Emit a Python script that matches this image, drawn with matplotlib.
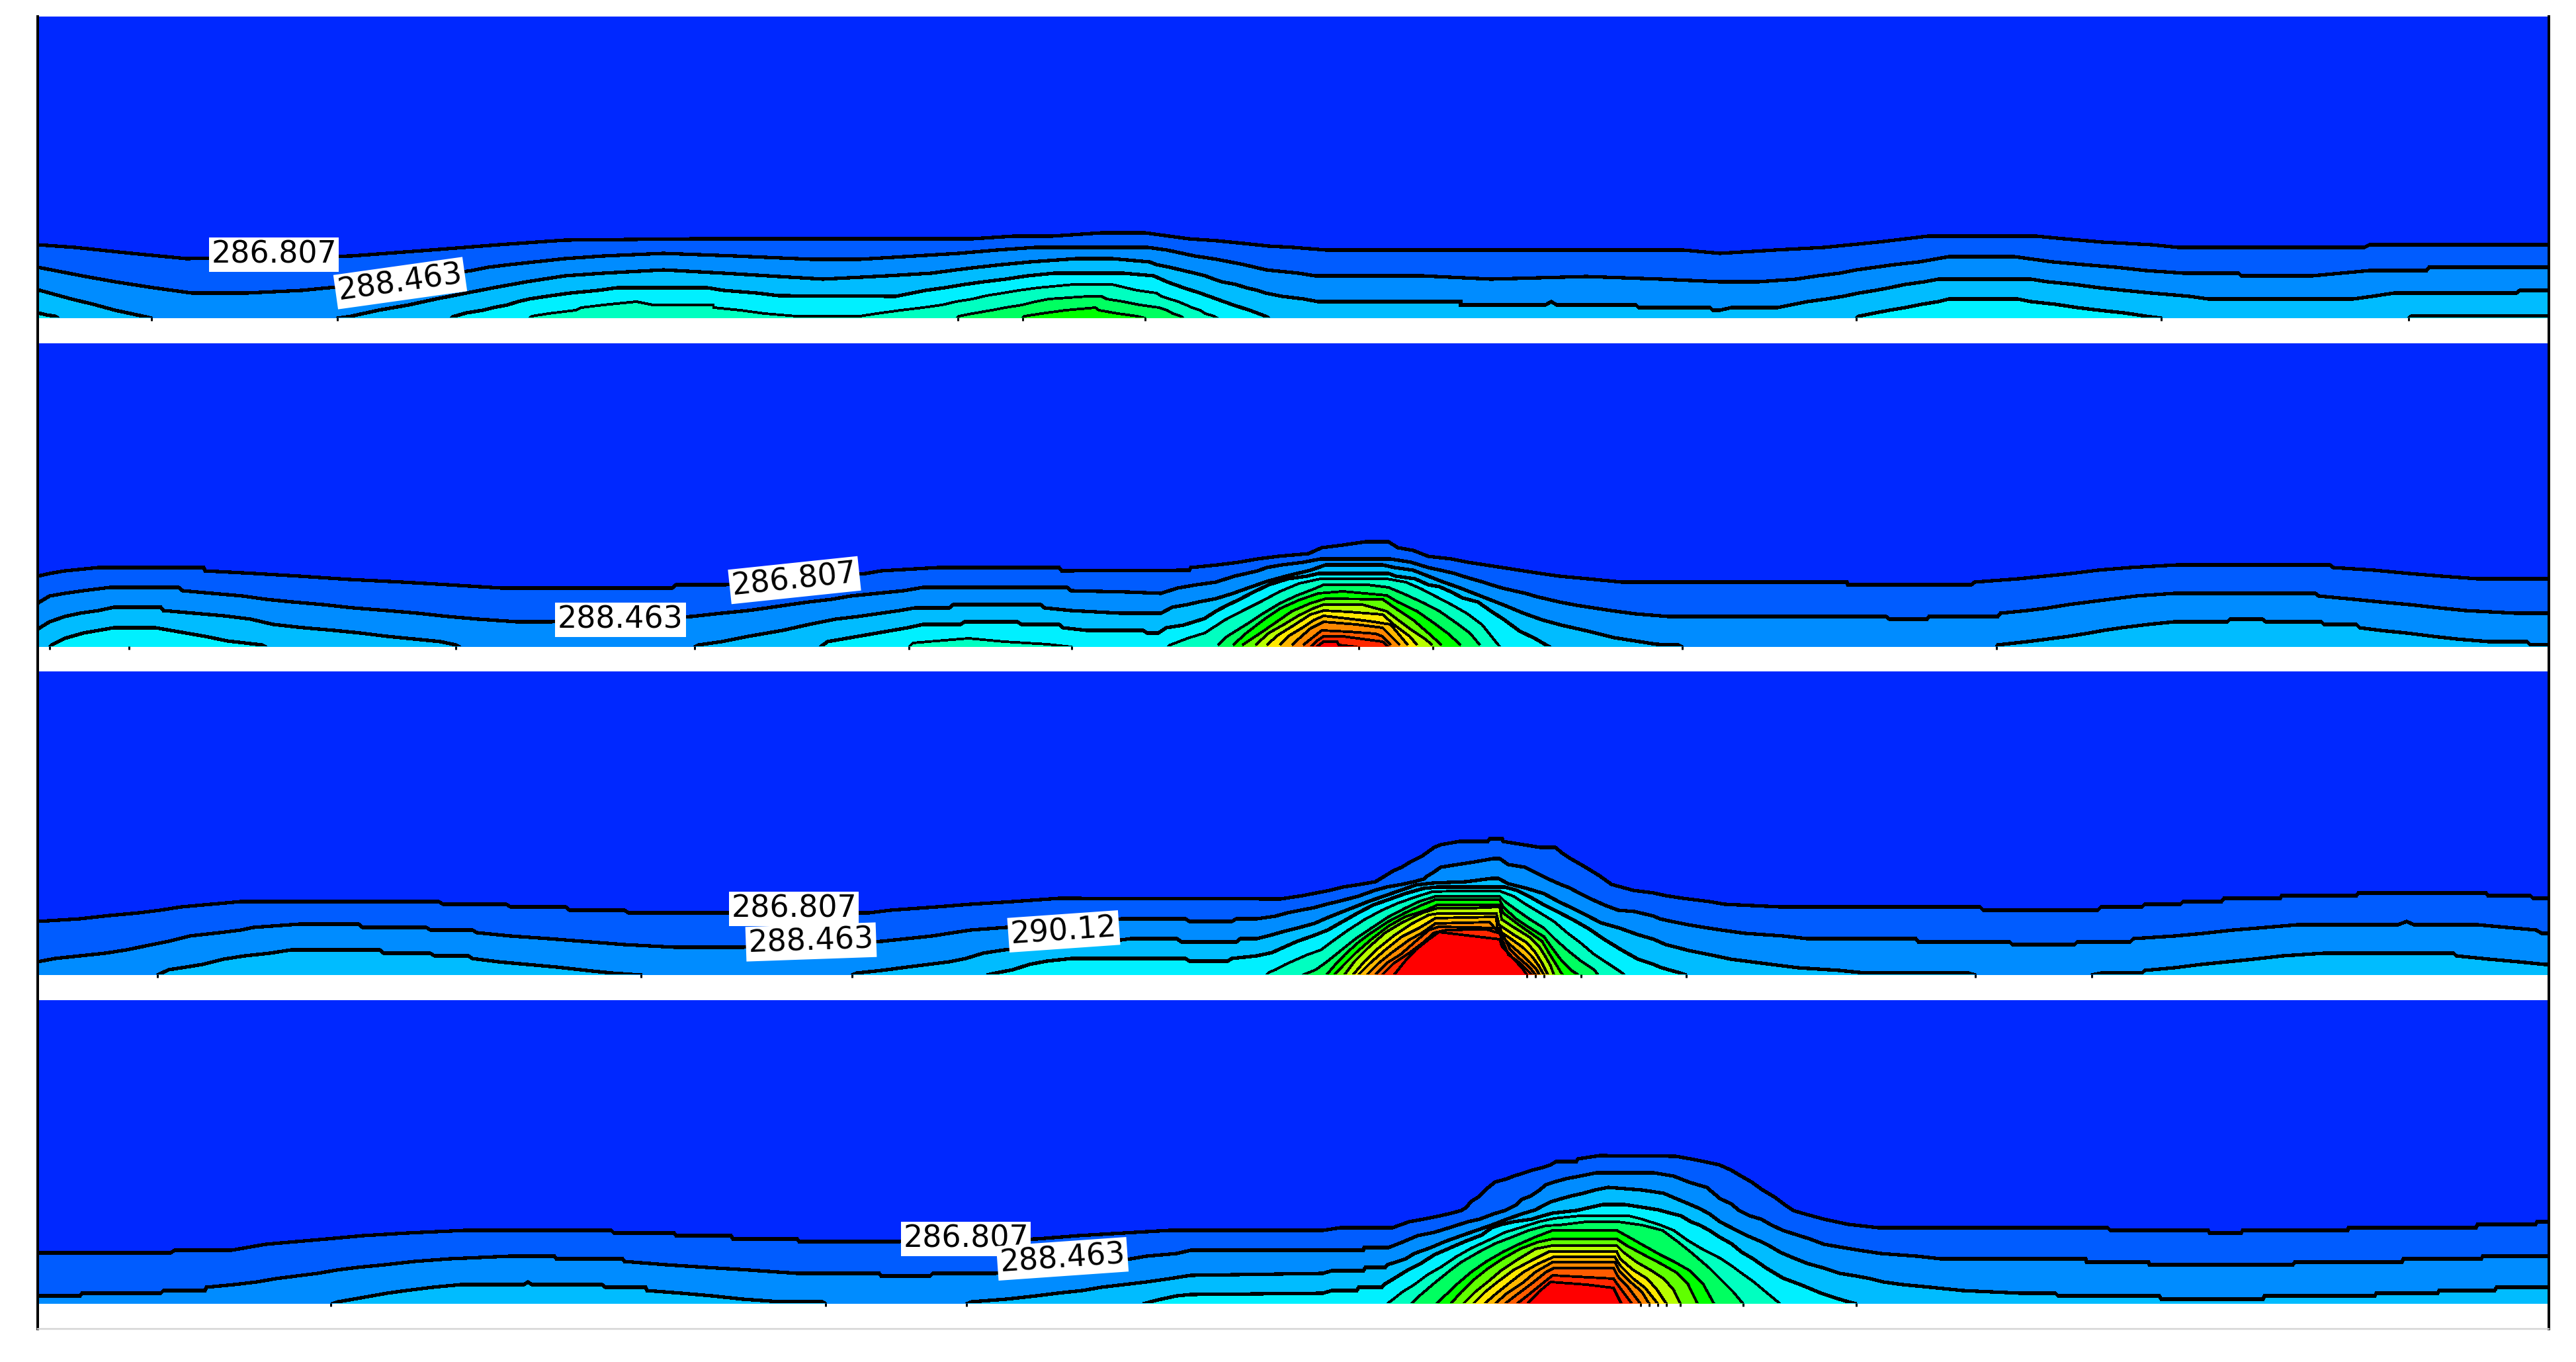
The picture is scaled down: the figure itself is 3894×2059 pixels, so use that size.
"""Four stacked temperature contour panels with a moving hot plume."""

import matplotlib
matplotlib.use("Agg")
import matplotlib.pyplot as plt
import numpy as np

W, H = 3894, 2059
LEFT, RIGHT = 57, 3853
FRAME_TOP, FRAME_BOTTOM = 25, 2009

# contour colours, from the background up to the hottest level
BANDS = ["#0028ff", "#005cff", "#008cff", "#00bcff", "#00f0ff", "#00ffc0",
         "#00ff60", "#00ff00", "#60ff00", "#b8ff00", "#ffe800", "#ffb800",
         "#ff8800", "#ff5c00", "#ff2800", "#ff0000"]

# each contour is a list of (x, height above panel bottom); negative = below the cut
p1_l1 = [(57,110),(113,106),(199,97),(282,89),(531,93),(638,101),(754,110),(854,117),(1053,119),(1470,119),(1532,123),(1590,123),(1665,128),(1731,128),(1797,119),(1840,116),(1880,112),(1918,108),(1955,106),(2005,102),(2544,102),(2600,97),(2683,102),(2757,106),(2839,114),(2914,123),(3078,123),(3120,119),(3178,114),(3252,110),(3293,106),(3574,106),(3582,110),(3855,110)]
p1_l2 = [(57,76),(83,71),(124,63),(174,54),(232,45),(290,37),(373,37),(456,41),(600,55),(713,71),(738,76),(771,80),(808,84),(854,89),(912,93),(1003,97),(1111,93),(1227,88),(1300,88),(1383,93),(1449,97),(1507,102),(1565,106),(1735,106),(1764,102),(1806,93),(1839,88),(1880,80),(1914,72),(1963,67),(1988,63),(2150,63),(2254,58),(2398,62),(2510,58),(2600,54),(2658,54),(2715,58),(2748,63),(2781,67),(2806,72),(2835,76),(2864,80),(2901,84),(2946,92),(3045,92),(3103,84),(3149,80),(3198,76),(3244,71),(3301,67),(3384,67),(3388,63),(3495,63),(3582,71),(3668,71),(3672,76),(3855,76)]
p1_l3 = [(57,42),(75,37),(108,28),(141,20),(174,11),(216,2),(229,-1),(236,-8),(503,-8),(510,-1),(531,2),(572,11),(618,19),(659,28),(705,37),(746,45),(796,54),(854,63),(912,67),(1003,72),(1094,67),(1161,63),(1244,58),(1341,63),(1408,67),(1445,72),(1478,76),(1515,80),(1557,84),(1627,89),(1681,89),(1738,84),(1748,80),(1768,76),(1789,71),(1806,67),(1822,63),(1835,58),(1847,54),(1868,50),(1884,45),(1901,41),(1913,37),(1938,32),(1971,28),(1992,24),(2208,24),(2208,19),(2336,19),(2345,24),(2353,19),(2473,19),(2477,15),(2585,15),(2589,11),(2600,11),(2617,15),(2687,15),(2707,19),(2732,24),(2761,28),(2786,32),(2810,37),(2835,41),(2856,45),(2880,50),(2909,54),(2930,58),(3070,58),(3095,54),(3136,50),(3173,45),(3211,41),(3252,37),(3310,32),(3338,28),(3557,28),(3586,32),(3619,37),(3804,37),(3809,41),(3855,41)]
p1_l4 = [(57,7),(70,4),(83,2),(88,-1),(94,-8),(678,-8),(684,1),(705,7),(730,11),(746,15),(767,19),(783,24),(800,28),(833,33),(862,37),(904,41),(933,45),(1069,45),(1094,41),(1144,37),(1177,33),(1354,32),(1399,41),(1428,45),(1458,50),(1487,54),(1520,58),(1553,63),(1594,67),(1698,67),(1744,63),(1764,54),(1789,45),(1814,37),(1839,28),(1864,19),(1889,11),(1913,2),(1918,-1),(1924,-8),(2800,-8),(2806,-1),(2810,2),(2835,7),(2856,11),(2880,15),(2905,20),(2930,24),(2946,28),(3050,28),(3070,24),(3107,20),(3140,15),(3173,11),(3211,7),(3244,2),(3267,-1),(3272,-8),(3636,-8),(3641,-1),(3645,2),(3855,2)]
p1_l5 = [(795,-8),(800,-1),(804,2),(829,6),(870,11),(879,15),(912,19),(962,24),(987,19),(1078,19),(1079,15),(1119,11),(1156,6),(1204,2),(1300,2),(1325,6),(1362,11),(1395,15),(1424,19),(1445,24),(1470,28),(1491,33),(1516,37),(1540,41),(1569,45),(1623,50),(1681,50),(1719,41),(1748,37),(1756,32),(1768,28),(1781,24),(1793,19),(1802,15),(1814,11),(1822,6),(1835,2),(1840,-1),(1845,-8)]
p1_l6 = [(1440,-8),(1446,-1),(1449,2),(1470,6),(1499,11),(1520,15),(1545,19),(1565,24),(1586,28),(1644,32),(1665,32),(1673,28),(1698,24),(1723,19),(1752,15),(1764,11),(1773,6),(1785,2),(1789,-1),(1794,-8)]
p1_l7 = [(1545,-1),(1549,2),(1574,6),(1611,11),(1656,15),(1661,11),(1690,6),(1719,2),(1731,-1)]

p2_l1 = [(57,106),(75,110),(98,114),(149,119),(308,119),(310,114),(385,110),(453,106),(528,101),(608,97),(677,93),(758,88),(1016,88),(1022,93),(1096,93),(1309,110),(1332,114),(1418,119),(1601,119),(1605,114),(1798,115),(1800,119),(1841,123),(1872,127),(1901,132),(1932,136),(1978,140),(1998,149),(2030,153),(2064,158),(2099,158),(2113,149),(2136,145),(2159,136),(2194,132),(2219,127),(2245,123),(2271,119),(2303,114),(2329,110),(2357,106),(2400,102),(2452,97),(2792,97),(2793,93),(2980,93),(2985,97),(3051,102),(3091,106),(3131,110),(3171,115),(3220,119),(3291,123),(3522,123),(3527,119),(3589,115),(3642,110),(3691,106),(3745,102),(3855,102)]
p2_l2 = [(57,64),(60,67),(75,76),(98,80),(126,84),(166,89),(270,89),(276,84),(321,80),(367,76),(402,71),(442,67),(488,63),(534,58),(585,54),(631,50),(677,45),(723,41),(781,37),(832,37),(1045,45),(1091,50),(1131,54),(1160,58),(1194,63),(1223,67),(1257,71),(1286,76),(1326,80),(1366,84),(1395,89),(1613,89),(1619,84),(1705,82),(1755,80),(1780,88),(1809,93),(1838,97),(1866,106),(1884,110),(1901,114),(1915,119),(1938,123),(1970,127),(1996,132),(2102,132),(2133,127),(2159,119),(2182,114),(2199,110),(2211,106),(2228,101),(2242,97),(2254,93),(2271,88),(2288,84),(2306,80),(2323,75),(2340,71),(2357,67),(2383,62),(2409,58),(2435,54),(2472,49),(2522,45),(2851,45),(2856,41),(2913,41),(2916,45),(3020,45),(3024,50),(3065,54),(3096,58),(3127,63),(3158,67),(3189,71),(3229,76),(3287,80),(3500,80),(3505,76),(3558,71),(3598,67),(3642,63),(3687,58),(3727,54),(3802,50),(3855,50)]
p2_l3 = [(57,26),(75,37),(98,45),(121,50),(149,54),(172,59),(243,59),(247,54),(293,50),(339,46),(379,41),(413,33),(459,28),(505,24),(545,20),(585,15),(626,11),(666,7),(689,2),(695,-1),(700,-8),(1045,-8),(1050,-1),(1056,2),(1091,7),(1131,15),(1160,20),(1183,24),(1223,33),(1263,41),(1297,45),(1332,50),(1360,54),(1383,58),(1435,58),(1441,63),(1573,63),(1579,58),(1619,54),(1693,50),(1755,50),(1772,59),(1795,63),(1812,67),(1838,72),(1864,80),(1889,89),(1915,98),(1944,106),(1981,115),(2004,123),(2090,123),(2108,119),(2136,115),(2159,106),(2182,97),(2205,89),(2228,80),(2251,71),(2274,62),(2303,50),(2331,40),(2360,32),(2400,23),(2440,13),(2472,8),(2504,3),(2537,2),(2543,-1),(2548,-8),(3013,-8),(3018,-1),(3020,2),(3065,7),(3096,11),(3127,15),(3158,20),(3180,24),(3207,28),(3247,33),(3287,37),(3367,37),(3371,41),(3420,41),(3425,37),(3509,37),(3513,33),(3562,33),(3567,28),(3598,24),(3638,20),(3678,15),(3713,11),(3762,7),(3820,7),(3825,2),(3855,2)]
p2_l4 = [(70,-8),(75,-1),(80,3),(98,12),(126,20),(172,28),(235,28),(281,20),(310,15),(344,8),(396,2),(402,-1),(408,-8),(1234,-8),(1240,-1),(1251,7),(1297,15),(1326,20),(1349,24),(1372,28),(1395,33),(1452,33),(1458,37),(1538,37),(1544,33),(1601,33),(1607,28),(1642,24),(1728,24),(1734,20),(1751,20),(1763,28),(1789,32),(1821,42),(1838,53),(1855,62),(1872,70),(1895,82),(1918,93),(1947,102),(1976,106),(1993,110),(2099,110),(2110,106),(2139,102),(2159,93),(2176,90),(2194,82),(2211,73),(2234,67),(2254,53),(2274,40),(2297,23),(2320,12),(2337,2),(2343,-1),(2348,-8)]
p2_l5 = [(1368,-8),(1374,-1),(1380,5),(1403,7),(1464,12),(1518,7),(1584,3),(1620,-1),(1626,-8),(1760,-8),(1765,-1),(1769,2),(1795,12),(1821,20),(1852,40),(1881,55),(1907,68),(1935,83),(1964,95),(1996,102),(2096,102),(2125,97),(2148,87),(2171,75),(2194,63),(2217,50),(2240,33),(2265,2),(2268,-1)]
p2_l6 = [(1841,2),(1855,15),(1884,33),(1910,50),(1935,65),(1961,77),(1987,87),(2001,93),(2067,93),(2099,89),(2125,78),(2153,65),(2176,53),(2199,37),(2222,20),(2237,2)]
p2_l7 = [(1864,2),(1884,20),(1910,40),(1935,57),(1964,70),(1993,80),(2030,83),(2096,77),(2113,67),(2142,53),(2165,37),(2188,20),(2208,2)]
p2_l8 = [(1878,2),(1901,17),(1930,37),(1953,53),(1981,65),(2004,72),(2090,71),(2113,55),(2136,40),(2159,20),(2179,2)]
p2_l9 = [(1898,2),(1918,20),(1941,33),(1964,47),(1987,58),(2001,63),(2059,63),(2096,53),(2113,40),(2136,23),(2153,12),(2165,2)]
p2_l10 = [(1915,2),(1932,17),(1953,30),(1981,48),(2001,54),(2039,52),(2090,48),(2108,32),(2131,15),(2142,2)]
p2_l11 = [(1935,2),(1947,15),(1967,27),(1987,40),(2001,46),(2027,43),(2070,38),(2102,33),(2113,20),(2128,2)]
p2_l12 = [(1953,2),(1964,12),(1981,27),(2001,37),(2050,33),(2090,28),(2108,10),(2116,2)]
p2_l13 = [(1970,2),(1984,13),(1998,24),(2039,22),(2079,19),(2090,15),(2102,2)]
p2_l14 = [(1981,-1),(1993,10),(2001,15),(2030,15),(2067,10),(2090,7),(2099,-1)]
p2_l15 = [(1990,-1),(2001,7),(2021,7),(2024,2),(2051,-1)]

p3_l1 = [(57,80),(121,84),(166,89),(210,93),(242,97),(274,102),(319,106),(364,110),(663,110),(670,106),(765,106),(772,102),(855,102),(861,97),(944,97),(950,93),(1071,93),(1314,93),(1346,97),(1416,102),(1467,106),(1531,110),(1601,115),(1936,114),(1969,119),(2010,127),(2030,132),(2056,136),(2079,140),(2094,149),(2107,157),(2119,162),(2132,170),(2150,179),(2168,192),(2178,196),(2206,201),(2249,201),(2252,205),(2271,205),(2272,201),(2303,196),(2328,192),(2351,192),(2362,183),(2374,175),(2390,166),(2405,157),(2418,149),(2436,136),(2469,127),(2500,123),(2518,119),(2544,115),(2584,110),(2607,106),(2691,102),(2993,102),(2998,97),(3171,97),(3176,102),(3238,102),(3242,106),(3296,106),(3300,110),(3358,110),(3362,115),(3447,115),(3449,119),(3562,119),(3565,123),(3758,123),(3761,119),(3825,119),(3829,115),(3855,115)]
p3_l2 = [(57,19),(83,24),(121,28),(159,32),(191,37),(230,45),(255,50),(287,58),(332,63),(364,67),(383,71),(453,76),(542,76),(548,71),(644,71),(651,67),(714,67),(721,63),(772,58),(829,54),(880,50),(944,45),(1020,41),(1122,41),(1333,50),(1371,54),(1409,58),(1441,63),(1467,67),(1696,84),(1792,84),(1798,80),(1862,80),(1869,84),(1900,84),(1928,88),(1946,93),(1966,97),(1987,101),(2005,106),(2022,110),(2053,118),(2078,127),(2096,132),(2119,136),(2137,140),(2152,144),(2158,149),(2165,153),(2178,162),(2203,166),(2229,170),(2257,175),(2267,175),(2280,166),(2305,162),(2323,153),(2341,144),(2359,136),(2372,131),(2387,123),(2405,114),(2425,105),(2446,97),(2471,95),(2500,88),(2509,84),(2527,80),(2552,75),(2576,71),(2602,67),(2638,62),(2696,58),(2731,54),(2896,54),(2900,49),(3038,49),(3042,45),(3136,45),(3140,49),(3220,49),(3225,54),(3287,58),(3331,62),(3376,67),(3425,71),(3473,75),(3625,75),(3638,80),(3649,75),(3745,75),(3789,71),(3834,67),(3842,62),(3855,62)]
p3_l3 = [(232,-8),(238,-1),(255,7),(281,11),(306,15),(338,23),(370,28),(408,32),(440,37),(574,37),(580,32),(650,32),(657,28),(708,28),(714,24),(753,19),(797,15),(842,11),(886,6),(925,2),(969,-1),(975,-8),(1282,-8),(1288,-1),(1295,2),(1333,6),(1371,11),(1403,15),(1435,19),(1460,24),(1486,32),(1518,37),(1645,45),(1709,54),(1779,54),(1786,49),(1869,49),(1875,54),(1900,54),(1920,59),(1941,65),(1961,70),(1987,77),(2005,85),(2025,93),(2048,102),(2068,110),(2091,118),(2117,127),(2140,135),(2165,138),(2216,140),(2254,145),(2265,145),(2280,137),(2308,130),(2334,122),(2356,110),(2377,100),(2397,90),(2420,78),(2448,70),(2476,60),(2500,53),(2509,49),(2518,45),(2534,41),(2553,36),(2573,32),(2593,28),(2616,23),(2647,19),(2678,15),(2718,10),(2780,6),(2820,2),(2976,2),(2986,-1),(2992,-8),(3156,-8),(3162,-1),(3176,2),(3238,2),(3242,6),(3287,10),(3327,15),(3367,19),(3407,23),(3451,28),(3513,32),(3709,32),(3713,28),(3762,23),(3807,19),(3847,15),(3855,15)]
p3_l4 = [(1492,-1),(1505,2),(1531,7),(1556,15),(1582,20),(1620,24),(1792,24),(1798,20),(1856,20),(1862,24),(1900,28),(1923,33),(1943,42),(1961,50),(1984,58),(2007,67),(2030,80),(2053,93),(2076,105),(2099,113),(2124,122),(2152,130),(2173,132),(2275,132),(2293,127),(2313,117),(2334,105),(2354,95),(2377,83),(2400,70),(2425,53),(2451,37),(2476,23),(2500,15),(2509,11),(2522,7),(2537,3),(2549,-1)]
p3_l5 = [(1914,-1),(1918,3),(1928,7),(1943,15),(1961,23),(1977,30),(1997,37),(2017,52),(2038,67),(2063,83),(2089,97),(2114,108),(2140,117),(2165,125),(2201,126),(2267,126),(2288,118),(2308,105),(2328,93),(2349,80),(2369,63),(2390,47),(2410,30),(2430,17),(2451,3),(2456,-1)]
p3_l6 = [(1969,-1),(1989,7),(2007,20),(2028,37),(2048,53),(2073,70),(2099,87),(2124,100),(2145,110),(2170,118),(2267,118),(2275,110),(2293,97),(2313,83),(2334,70),(2351,53),(2369,37),(2390,20),(2410,7),(2416,-1)]
p3_l7 = [(2005,-1),(2017,13),(2033,30),(2053,48),(2073,63),(2099,80),(2124,93),(2150,105),(2170,113),(2267,113),(2272,102),(2293,83),(2313,70),(2334,57),(2346,40),(2359,23),(2374,7),(2386,-1)]
p3_l8 = [(2017,-1),(2030,13),(2050,33),(2073,53),(2099,73),(2124,87),(2155,97),(2173,105),(2267,105),(2272,93),(2293,77),(2313,63),(2331,50),(2341,33),(2351,17),(2362,-1)]
p3_l9 = [(2032,-1),(2048,20),(2068,40),(2094,63),(2119,78),(2150,93),(2173,100),(2224,100),(2267,102),(2270,83),(2290,70),(2311,57),(2326,43),(2336,27),(2344,13),(2349,-1)]
p3_l10 = [(2045,-1),(2063,20),(2084,40),(2109,60),(2135,77),(2160,90),(2175,92),(2262,92),(2266,75),(2288,60),(2308,48),(2321,33),(2331,17),(2340,-1)]
p3_l11 = [(2053,-1),(2071,17),(2094,37),(2119,57),(2145,70),(2170,85),(2262,87),(2263,68),(2285,53),(2303,40),(2316,27),(2326,13),(2334,-1)]
p3_l12 = [(2066,-1),(2084,17),(2104,33),(2130,52),(2150,63),(2170,77),(2252,79),(2268,60),(2285,43),(2300,30),(2313,18),(2323,7),(2327,-1)]
p3_l13 = [(2079,-1),(2096,17),(2117,30),(2140,50),(2160,67),(2175,72),(2267,70),(2283,37),(2298,23),(2313,10),(2321,-1)]
p3_l14 = [(2089,-1),(2107,17),(2127,30),(2150,47),(2168,63),(2186,67),(2247,68),(2267,62),(2280,30),(2298,17),(2308,7),(2316,-1)]
p3_l15 = [(2107,-1),(2124,20),(2140,37),(2160,53),(2175,64),(2267,53),(2270,43),(2285,27),(2303,7),(2308,-1)]

p4_l1 = [(57,76),(258,76),(264,80),(350,80),(402,89),(448,93),(494,97),(549,102),(616,106),(703,110),(924,110),(928,106),(1019,106),(1022,102),(1105,102),(1108,97),(1205,97),(1208,93),(1355,93),(1567,97),(1630,102),(1699,106),(1768,110),(2000,110),(2026,114),(2105,114),(2130,123),(2152,127),(2177,132),(2194,136),(2209,140),(2217,145),(2223,153),(2237,162),(2245,171),(2260,183),(2278,188),(2288,192),(2301,196),(2316,201),(2332,205),(2344,209),(2352,214),(2383,214),(2385,218),(2418,223),(2533,222),(2556,218),(2576,214),(2599,209),(2617,201),(2632,192),(2648,183),(2663,172),(2683,160),(2699,148),(2711,140),(2724,136),(2757,127),(2794,119),(2839,114),(3186,114),(3190,110),(3338,110),(3340,106),(3388,106),(3390,110),(3549,110),(3550,114),(3743,114),(3745,119),(3833,119),(3835,123),(3855,123)]
p4_l2 = [(57,11),(121,11),(124,15),(243,15),(247,19),(310,19),(312,24),(354,28),(388,32),(417,37),(448,41),(480,45),(509,50),(540,54),(582,58),(626,63),(680,67),(771,71),(838,71),(841,67),(941,67),(944,63),(1007,58),(1068,54),(1133,50),(1205,45),(1329,45),(1332,41),(1406,41),(1410,45),(1504,45),(1710,67),(1733,71),(1779,75),(1800,80),(2061,80),(2062,84),(2099,84),(2122,93),(2143,102),(2168,107),(2194,115),(2219,123),(2237,127),(2258,135),(2275,140),(2291,148),(2301,157),(2314,162),(2326,170),(2337,179),(2349,183),(2367,188),(2388,192),(2413,197),(2500,197),(2530,192),(2553,183),(2566,179),(2580,175),(2600,158),(2617,150),(2629,140),(2645,132),(2662,127),(2678,118),(2695,110),(2720,102),(2736,97),(2757,89),(2786,84),(2810,80),(2843,75),(2897,71),(2934,67),(3153,67),(3154,62),(3248,62),(3249,58),(3466,58),(3469,62),(3631,62),(3633,67),(3751,67),(3753,71),(3855,71)]
p4_l3 = [(496,-8),(502,-1),(511,2),(540,7),(585,15),(614,19),(654,24),(697,28),(792,28),(798,32),(804,28),(910,28),(915,24),(976,24),(978,19),(1030,15),(1076,11),(1123,6),(1179,2),(1243,2),(1248,-1),(1254,-8),(1455,-8),(1461,-1),(1469,2),(1521,6),(1567,11),(1598,15),(1636,19),(1665,24),(1699,28),(1733,32),(1768,37),(1800,42),(2000,45),(2013,49),(2061,49),(2064,54),(2094,54),(2097,58),(2110,62),(2125,67),(2138,75),(2163,84),(2184,93),(2209,102),(2232,110),(2255,118),(2278,127),(2301,135),(2321,141),(2334,148),(2344,153),(2357,157),(2375,162),(2393,166),(2411,171),(2431,175),(2482,171),(2515,166),(2536,157),(2553,150),(2569,143),(2584,135),(2600,123),(2625,110),(2641,102),(2662,93),(2674,87),(2691,77),(2707,70),(2732,60),(2757,53),(2781,45),(2806,41),(2827,37),(2847,32),(2876,28),(2918,24),(2967,19),(3054,15),(3107,15),(3111,11),(3264,11),(3267,6),(3421,6),(3423,11),(3590,11),(3592,15),(3685,15),(3687,19),(3771,19),(3774,24),(3855,24)]
p4_l4 = [(1728,-1),(1751,5),(1779,11),(1800,13),(2000,15),(2013,19),(2051,19),(2054,24),(2089,24),(2092,28),(2107,37),(2128,50),(2148,60),(2168,73),(2191,83),(2214,93),(2240,103),(2255,114),(2270,119),(2288,123),(2316,127),(2332,132),(2347,136),(2383,140),(2405,145),(2423,149),(2456,149),(2482,145),(2507,141),(2525,136),(2541,132),(2556,123),(2569,118),(2584,110),(2599,100),(2617,90),(2633,77),(2650,67),(2670,53),(2695,38),(2724,27),(2753,15),(2777,7),(2794,2),(2806,-1)]
p4_l5 = [(2097,-1),(2105,5),(2120,17),(2138,28),(2158,43),(2179,55),(2201,70),(2224,83),(2250,95),(2275,107),(2301,115),(2326,123),(2349,128),(2388,132),(2462,132),(2482,127),(2510,118),(2530,110),(2551,95),(2571,83),(2600,68),(2617,57),(2633,45),(2650,33),(2662,23),(2674,13),(2691,-1)]
p4_l6 = [(2133,-1),(2148,13),(2168,30),(2189,47),(2209,62),(2235,77),(2260,90),(2286,100),(2311,110),(2337,117),(2357,118),(2398,123),(2446,123),(2482,118),(2513,110),(2536,93),(2556,77),(2584,53),(2604,33),(2620,17),(2635,-1)]
p4_l7 = [(2171,-1),(2186,13),(2204,30),(2224,47),(2247,63),(2273,78),(2298,90),(2321,100),(2347,110),(2444,110),(2462,100),(2485,87),(2510,73),(2530,63),(2553,50),(2574,30),(2591,-1)]
p4_l8 = [(2193,-1),(2209,17),(2230,37),(2250,53),(2273,68),(2298,82),(2324,92),(2347,97),(2444,97),(2459,87),(2485,73),(2510,60),(2533,47),(2551,30),(2566,-1)]
p4_l9 = [(2212,-1),(2230,17),(2250,33),(2270,50),(2296,67),(2321,82),(2347,87),(2444,87),(2454,77),(2474,62),(2495,50),(2515,37),(2530,20),(2540,-1)]
p4_l10 = [(2227,-1),(2245,17),(2265,33),(2288,50),(2316,65),(2342,78),(2444,78),(2449,67),(2469,50),(2490,37),(2505,20),(2519,-1)]
p4_l11 = [(2244,-1),(2260,13),(2281,30),(2303,47),(2326,60),(2349,70),(2441,70),(2449,57),(2469,37),(2487,23),(2506,-1)]
p4_l12 = [(2260,-1),(2278,15),(2301,30),(2321,47),(2347,62),(2441,62),(2449,47),(2467,30),(2482,17),(2493,-1)]
p4_l13 = [(2275,-1),(2293,13),(2316,30),(2337,47),(2349,53),(2439,53),(2446,40),(2462,23),(2480,-1)]
p4_l14 = [(2293,-1),(2311,13),(2332,30),(2347,42),(2439,37),(2446,27),(2467,-1)]
p4_l15 = [(2309,-1),(2326,17),(2344,32),(2398,28),(2439,23),(2451,-1)]

# little stubs under the panels where a contour runs out
p1_ticks = [229, 510, 1448, 1546, 1731, 2806, 3267, 3641]
p2_ticks = [75, 195, 689, 1050, 1374, 1620, 2054, 2166, 2543, 3018]
p3_ticks = [238, 969, 1288, 2308, 2321, 2334, 2390, 2549, 2986, 3162]
p4_ticks = [500, 1248, 1461, 2480, 2493, 2506, 2519, 2540, 2635, 2806]

# contour labels: text, centre x, centre y in the image, rotation
p1_labels = [("286.807", 414, 385, 0), ("288.463", 605, 428, 8)]
p2_labels = [("286.807", 1201, 877, 6), ("288.463", 938, 937, 0)]
p3_labels = [("286.807", 1200, 1374, 0), ("288.463", 1226, 1424, 2), ("290.12", 1608, 1408, 4)]
p4_labels = [("286.807", 1460, 1873, 0), ("288.463", 1606, 1903, 4)]

# panel top and bottom rows in the image
panels = [
    (25, 480, [p1_l1, p1_l2, p1_l3, p1_l4, p1_l5, p1_l6, p1_l7], p1_ticks, p1_labels),
    (519, 977, [p2_l1, p2_l2, p2_l3, p2_l4, p2_l5, p2_l6, p2_l7, p2_l8, p2_l9, p2_l10,
                p2_l11, p2_l12, p2_l13, p2_l14, p2_l15], p2_ticks, p2_labels),
    (1015, 1473, [p3_l1, p3_l2, p3_l3, p3_l4, p3_l5, p3_l6, p3_l7, p3_l8, p3_l9, p3_l10,
                  p3_l11, p3_l12, p3_l13, p3_l14, p3_l15], p3_ticks, p3_labels),
    (1512, 1970, [p4_l1, p4_l2, p4_l3, p4_l4, p4_l5, p4_l6, p4_l7, p4_l8, p4_l9, p4_l10,
                  p4_l11, p4_l12, p4_l13, p4_l14, p4_l15], p4_ticks, p4_labels),
]

DPI = 100
PX = 72 / DPI  # one image pixel in points

fig = plt.figure(figsize=(W / DPI, H / DPI), dpi=DPI, facecolor="white")


def add_px_axes(x0, y0, x1, y1):
    """Axes placed by image pixels (y counted from the top)."""
    return fig.add_axes([x0 / W, 1 - y1 / H, (x1 - x0) / W, (y1 - y0) / H])


for top, bottom, contours, ticks, labels in panels:
    ax = add_px_axes(LEFT, top, RIGHT, bottom)
    ax.set_xlim(LEFT, RIGHT)
    ax.set_ylim(0, bottom - top)
    ax.set_facecolor(BANDS[0])
    ax.set_xticks([])
    ax.set_yticks([])
    for spine in ax.spines.values():
        spine.set_visible(False)

    # fill from the outer contour inwards, then the black lines on top
    for i, contour in enumerate(contours):
        pts = np.array(contour)
        ax.fill_between(pts[:, 0], -30, pts[:, 1], color=BANDS[i + 1], lw=0,
                        antialiased=False, zorder=2)
    for i, contour in enumerate(contours):
        pts = np.array(contour)
        # the plume lines run steep, in the picture they read thinner there
        width = 4.2 if i < 4 else 2.8
        ax.plot(pts[:, 0], pts[:, 1], color="black", lw=width * PX, antialiased=False,
                solid_joinstyle="miter", solid_capstyle="butt", zorder=3)

    ax.vlines(ticks, -4.5, 0, color="black", lw=3 * PX, clip_on=False, zorder=3)

    for text, cx, cy, rot in labels:
        ax.text(cx, bottom - cy, text, ha="center", va="center", rotation=rot,
                rotation_mode="anchor", fontsize=33, family="DejaVu Sans",
                color="black", zorder=5,
                bbox=dict(boxstyle="square,pad=0.08", fc="white", ec="none"))

# outer frame: black sides, light grey bottom, nothing on top
frame = add_px_axes(LEFT, FRAME_TOP, RIGHT, FRAME_BOTTOM)
frame.patch.set_alpha(0)
frame.set_xticks([])
frame.set_yticks([])
frame.spines["top"].set_visible(False)
frame.spines["left"].set_linewidth(4 * PX)
frame.spines["right"].set_linewidth(4 * PX)
frame.spines["bottom"].set_linewidth(2.5 * PX)
frame.spines["bottom"].set_color("#d4d4d4")

fig.savefig("out.png", dpi=DPI)
